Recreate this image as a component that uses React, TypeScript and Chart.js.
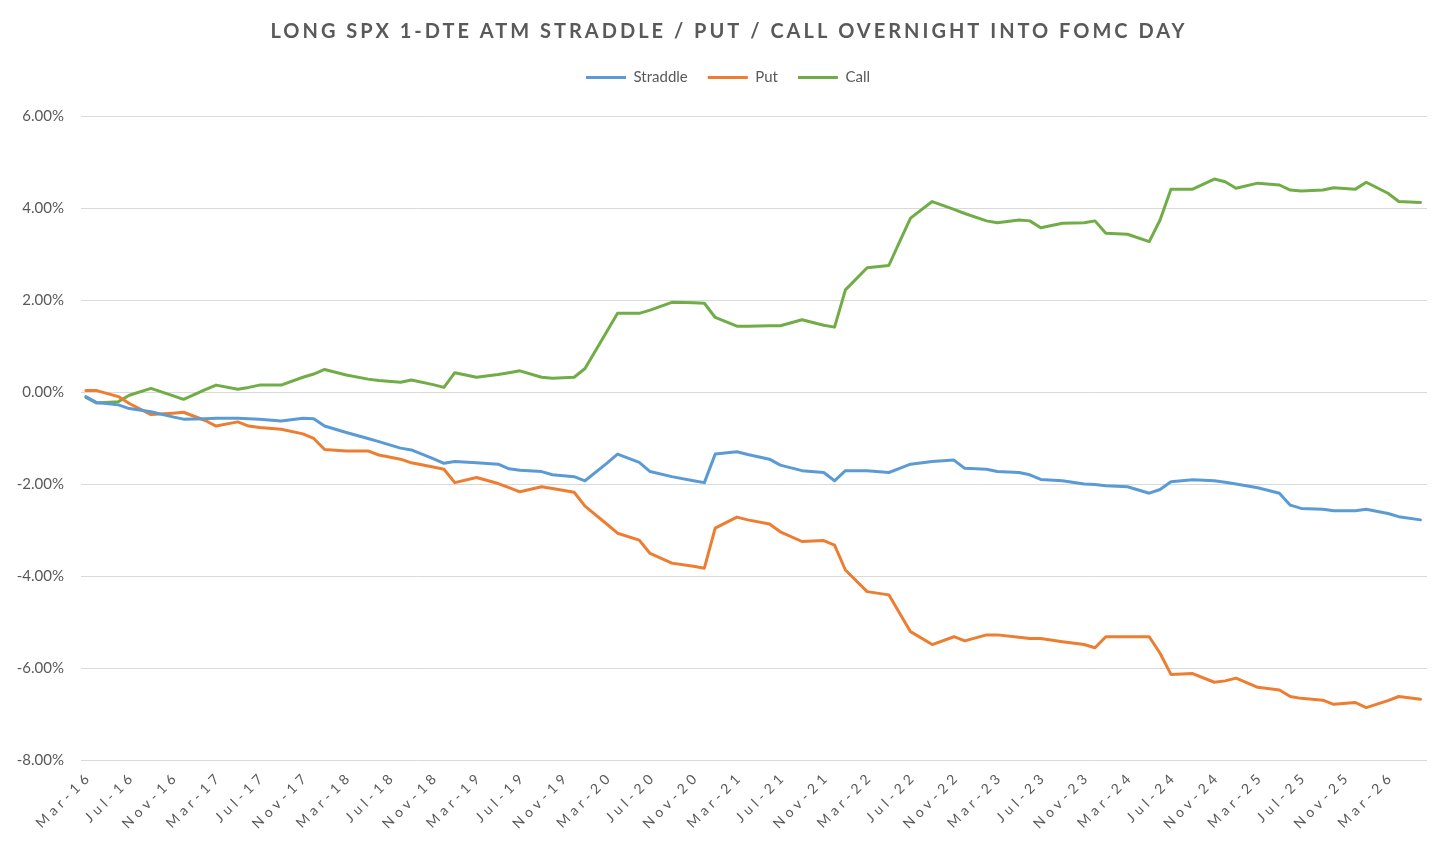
import React, { useEffect, useRef } from "react";
import { Chart, registerables } from "chart.js";

Chart.register(...registerables);

// FOMC meeting months shown on the chart
const meetingMonths = [
  "2016-03", "2016-04", "2016-06", "2016-07", "2016-09", "2016-11", "2016-12",
  "2017-02", "2017-03", "2017-05", "2017-06", "2017-07", "2017-09", "2017-11", "2017-12",
  "2018-01", "2018-03", "2018-05", "2018-06", "2018-08", "2018-09", "2018-11", "2018-12",
  "2019-01", "2019-03", "2019-05", "2019-06", "2019-07", "2019-09", "2019-10", "2019-12",
  "2020-01", "2020-03", "2020-04", "2020-06", "2020-07", "2020-09", "2020-11", "2020-12",
  "2021-01", "2021-03", "2021-04", "2021-06", "2021-07", "2021-09", "2021-11", "2021-12",
  "2022-01", "2022-03", "2022-05", "2022-06", "2022-07", "2022-09", "2022-11", "2022-12",
  "2023-02", "2023-03", "2023-05", "2023-06", "2023-07", "2023-09", "2023-11", "2023-12",
  "2024-01", "2024-03", "2024-05", "2024-06", "2024-07", "2024-09", "2024-11", "2024-12",
  "2025-01", "2025-03", "2025-05", "2025-06", "2025-07", "2025-09", "2025-10", "2025-12",
  "2026-01", "2026-03", "2026-04", "2026-06",
];

// cumulative P&L, %
const straddle = [
  -0.10, -0.23, -0.28, -0.36, -0.43, -0.54, -0.59,
  -0.58, -0.57, -0.57, -0.58, -0.59, -0.63, -0.57, -0.58,
  -0.74, -0.88, -1.01, -1.08, -1.22, -1.26, -1.45, -1.55,
  -1.51, -1.54, -1.57, -1.67, -1.70, -1.73, -1.80, -1.84,
  -1.93, -1.55, -1.35, -1.53, -1.73, -1.84, -1.93, -1.97,
  -1.35, -1.30, -1.36, -1.46, -1.59, -1.71, -1.75, -1.93,
  -1.71, -1.71, -1.75, -1.66, -1.57, -1.51, -1.48, -1.66,
  -1.68, -1.73, -1.75, -1.80, -1.90, -1.93, -2.00, -2.01,
  -2.04, -2.06, -2.20, -2.12, -1.95, -1.91, -1.93, -1.96,
  -2.00, -2.08, -2.20, -2.46, -2.53, -2.55, -2.58, -2.58,
  -2.55, -2.64, -2.71, -2.78,
];

const put = [
  0.03, 0.03, -0.10, -0.25, -0.49, -0.46, -0.44,
  -0.62, -0.74, -0.65, -0.74, -0.77, -0.81, -0.91, -1.01,
  -1.25, -1.28, -1.28, -1.37, -1.46, -1.54, -1.63, -1.68,
  -1.97, -1.86, -1.99, -2.08, -2.17, -2.06, -2.10, -2.18,
  -2.48, -2.87, -3.07, -3.22, -3.51, -3.72, -3.79, -3.83,
  -2.96, -2.72, -2.78, -2.87, -3.04, -3.25, -3.23, -3.33,
  -3.87, -4.34, -4.41, -4.81, -5.21, -5.49, -5.32, -5.41,
  -5.28, -5.28, -5.33, -5.36, -5.36, -5.43, -5.49, -5.56,
  -5.32, -5.32, -5.32, -5.68, -6.14, -6.12, -6.31, -6.28,
  -6.22, -6.42, -6.48, -6.62, -6.66, -6.70, -6.79, -6.75,
  -6.86, -6.71, -6.62, -6.68,
];

const call = [
  -0.12, -0.24, -0.21, -0.07, 0.08, -0.08, -0.16,
  0.05, 0.15, 0.06, 0.10, 0.15, 0.15, 0.32, 0.39,
  0.49, 0.37, 0.28, 0.25, 0.21, 0.26, 0.16, 0.10,
  0.42, 0.32, 0.38, 0.42, 0.46, 0.32, 0.30, 0.32,
  0.51, 1.31, 1.71, 1.71, 1.78, 1.95, 1.94, 1.93,
  1.62, 1.43, 1.43, 1.44, 1.44, 1.57, 1.45, 1.41,
  2.22, 2.70, 2.75, 3.27, 3.78, 4.14, 3.97, 3.88,
  3.72, 3.68, 3.74, 3.72, 3.57, 3.67, 3.68, 3.72,
  3.45, 3.43, 3.27, 3.74, 4.41, 4.41, 4.63, 4.57,
  4.43, 4.54, 4.50, 4.39, 4.37, 4.39, 4.44, 4.41,
  4.56, 4.32, 4.14, 4.12,
];

// one label every 4 months, starting Mar-16
const tickLabels = [
  "Mar-16", "Jul-16", "Nov-16", "Mar-17", "Jul-17", "Nov-17", "Mar-18", "Jul-18",
  "Nov-18", "Mar-19", "Jul-19", "Nov-19", "Mar-20", "Jul-20", "Nov-20", "Mar-21",
  "Jul-21", "Nov-21", "Mar-22", "Jul-22", "Nov-22", "Mar-23", "Jul-23", "Nov-23",
  "Mar-24", "Jul-24", "Nov-24", "Mar-25", "Jul-25", "Nov-25", "Mar-26",
];

const TITLE = "LONG SPX 1-DTE ATM STRADDLE / PUT / CALL OVERNIGHT INTO FOMC DAY";
const TEXT = "#595959";
const FONT = "Lato";

// months since Mar-16
const monthIndex = (ym: string) => {
  const [y, m] = ym.split("-").map(Number);
  return (y - 2016) * 12 + (m - 3);
};
const xs = meetingMonths.map(monthIndex);
const points = (vals: number[]) => vals.map((v, i) => ({ x: xs[i], y: v }));

// excel-style spaced title
const titlePlugin = {
  id: "spacedTitle",
  afterDraw(chart: any) {
    const { ctx, width } = chart;
    ctx.save();
    ctx.font = `bold 20px ${FONT}`;
    ctx.fillStyle = TEXT;
    ctx.letterSpacing = "3px";
    ctx.textAlign = "center";
    ctx.textBaseline = "middle";
    ctx.fillText(TITLE, width / 2 + 1, 32);
    ctx.restore();
  },
};

// rotated, spaced date labels on the x ticks
const xLabelsPlugin = {
  id: "xLabels",
  afterDraw(chart: any) {
    const { ctx } = chart;
    const scale = chart.scales.x;
    ctx.save();
    ctx.font = `14px ${FONT}`;
    ctx.fillStyle = TEXT;
    ctx.letterSpacing = "4.5px";
    ctx.textAlign = "right";
    ctx.textBaseline = "middle";
    scale.ticks.forEach((tick: any) => {
      const px = scale.getPixelForValue(tick.value);
      ctx.save();
      ctx.translate(px + 4, scale.top + 14);
      ctx.rotate(-Math.PI / 4);
      ctx.fillText(String(tick.label), 0, 0);
      ctx.restore();
    });
    ctx.restore();
  },
};

// room between legend and plot
const legendGap = {
  id: "legendGap",
  beforeInit(chart: any) {
    const fit = chart.legend.fit;
    chart.legend.fit = function () {
      fit.call(this);
      this.height += 21;
    };
  },
};

const line = (label: string, vals: number[], color: string) => ({
  label,
  data: points(vals),
  borderColor: color,
  backgroundColor: color,
  borderWidth: 3,
  pointRadius: 0,
  tension: 0,
  borderJoinStyle: "round" as const,
  borderCapStyle: "round" as const,
});

export default function App() {
  const canvasRef = useRef<HTMLCanvasElement>(null);

  useEffect(() => {
    document.body.style.margin = "0";
    if (!canvasRef.current) return;

    const chart = new Chart(canvasRef.current, {
      type: "line",
      data: {
        datasets: [
          line("Straddle", straddle, "#5B9BD5"),
          line("Put", put, "#ED7D31"),
          line("Call", call, "#70AD47"),
        ],
      },
      options: {
        animation: false,
        responsive: true,
        maintainAspectRatio: false,
        layout: { padding: { top: 50, left: 0, right: 0, bottom: 0 } },
        plugins: {
          title: { display: false },
          tooltip: { enabled: false },
          legend: {
            position: "top",
            labels: {
              usePointStyle: true,
              pointStyle: "line",
              pointStyleWidth: 40,
              padding: 20,
              color: TEXT,
              font: { family: FONT, size: 15 },
            },
          },
        },
        scales: {
          x: {
            type: "linear",
            min: -0.45,
            max: 123.6,
            afterFit: (s: any) => {
              s.height = 83;
            },
            grid: { display: false },
            border: { display: false },
            ticks: {
              display: false,
              stepSize: 4,
              includeBounds: false,
              callback: (v: any) => tickLabels[Math.round(Number(v) / 4)] ?? "",
            },
          },
          y: {
            min: -8,
            max: 6,
            afterFit: (s: any) => {
              s.width = 81;
            },
            grid: { color: "#d9d9d9", lineWidth: 1, drawTicks: false },
            border: { display: false },
            ticks: {
              stepSize: 2,
              padding: 17,
              color: TEXT,
              font: { family: FONT, size: 15 },
              callback: (v: any) => Number(v).toFixed(2) + "%",
            },
          },
          // empty right-hand margin, keeps the legend centred over the page
          yRight: {
            type: "linear",
            position: "right",
            min: -8,
            max: 6,
            afterFit: (s: any) => {
              s.width = 29;
            },
            grid: { display: false },
            border: { display: false },
            ticks: { display: false },
          },
        },
      },
      plugins: [titlePlugin, xLabelsPlugin, legendGap],
    });

    return () => {
      chart.destroy();
    };
  }, []);

  return (
    <div style={{ width: 1456, height: 843, background: "#fff" }}>
      <canvas ref={canvasRef} />
    </div>
  );
}
